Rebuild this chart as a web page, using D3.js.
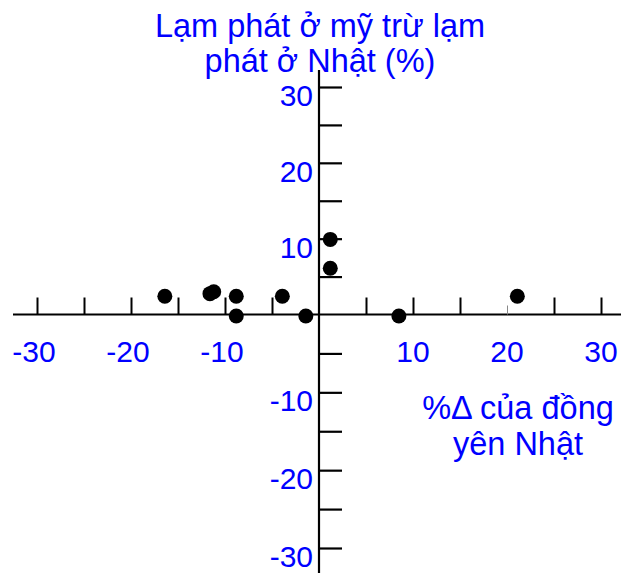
<!DOCTYPE html>
<html>
<head>
<meta charset="utf-8">
<script src="https://cdn.jsdelivr.net/npm/d3@7"></script>
<style>
  html, body { margin: 0; padding: 0; background: #fff; }
  svg { display: block; }
  text { font-family: "Liberation Sans", Arial, sans-serif; fill: #0000ff; }
</style>
</head>
<body>
<svg id="chart" width="621" height="573"></svg>
<script>
// ---- data ----
const pointX = [-16.4, -11.6, -11.2, -8.8, -8.8, -3.9, -1.4, 1.2, 1.2, 8.5, 21.1];
const pointY = [2.4, 2.75, 3.0, 2.4, -0.2, 2.4, -0.2, 9.9, 6.1, -0.2, 2.4];
const xTickValues = [-30, -25, -20, -15, -10, -5, 5, 10, 15, 20, 25, 30];
const yTickValues = [-30, -25, -20, -15, -10, -5, 5, 10, 15, 20, 25, 30];
const xLabelValues = [-30, -20, -10, 10, 20, 30];
const xLabelTexts = ["-30", "-20", "-10", "10", "20", "30"];
const yLabelValues = [30, 20, 10, -10, -20, -30];
const yLabelTexts = ["30", "20", "10", "-10", "-20", "-30"];
const titleLines = ["Lạm phát ở mỹ trừ lạm", "phát ở Nhật (%)"];
const xTitleLines = ["%Δ của đồng", "yên Nhật"];

// ---- layout ----
const svg = d3.select("#chart");
const x = d3.scaleLinear().domain([-30, 30]).range([37, 601]);
const y = d3.scaleLinear().domain([-30, 0, 30]).range([548, 314.5, 87]);

// axis lines
svg.append("line")
  .attr("x1", 13).attr("x2", 621)
  .attr("y1", y(0)).attr("y2", y(0))
  .attr("stroke", "#000").attr("stroke-width", 2.2);
svg.append("line")
  .attr("x1", x(0)).attr("x2", x(0))
  .attr("y1", 70).attr("y2", 573)
  .attr("stroke", "#000").attr("stroke-width", 2.2);

// x ticks (upward)
const gx = svg.append("g").attr("transform", `translate(0,${y(0)})`)
  .call(d3.axisTop(x).tickValues(xTickValues).tickSize(17).tickFormat(""));
gx.select(".domain").remove();
gx.selectAll(".tick line").attr("stroke", "#000").attr("stroke-width", 2)
  .filter(d => d === 20).attr("y2", -9).attr("stroke", "#888").attr("stroke-width", 1);

// y ticks (to the right)
const gy = svg.append("g").attr("transform", `translate(${x(0)},0)`)
  .call(d3.axisRight(y).tickValues(yTickValues).tickSize(23).tickFormat(""));
gy.select(".domain").remove();
gy.selectAll(".tick line").attr("stroke", "#000").attr("stroke-width", 2.2);

// x tick labels
svg.append("g").selectAll("text")
  .data(xLabelValues)
  .join("text")
  .attr("x", d => x(d) - (d < 0 ? 3 : 0))
  .attr("y", 362)
  .attr("text-anchor", "middle")
  .attr("font-size", 30)
  .text((d, i) => xLabelTexts[i]);

// y tick labels
svg.append("g").selectAll("text")
  .data(yLabelValues)
  .join("text")
  .attr("x", 313)
  .attr("y", d => y(d) + 19)
  .attr("text-anchor", "end")
  .attr("font-size", 30)
  .text((d, i) => yLabelTexts[i]);

// titles
svg.append("g").selectAll("text")
  .data(titleLines)
  .join("text")
  .attr("x", 320)
  .attr("y", (d, i) => 37 + i * 35)
  .attr("text-anchor", "middle")
  .attr("font-size", 32.5)
  .text(d => d);

svg.append("g").selectAll("text")
  .data(xTitleLines)
  .join("text")
  .attr("x", 518)
  .attr("y", (d, i) => 419 + i * 36)
  .attr("text-anchor", "middle")
  .attr("font-size", 32.5)
  .text(d => d);

// points
svg.append("g").selectAll("circle")
  .data(pointX.map((v, i) => [v, pointY[i]]))
  .join("circle")
  .attr("cx", d => x(d[0]))
  .attr("cy", d => y(d[1]))
  .attr("r", 7.5)
  .attr("fill", "#000");
</script>
</body>
</html>
